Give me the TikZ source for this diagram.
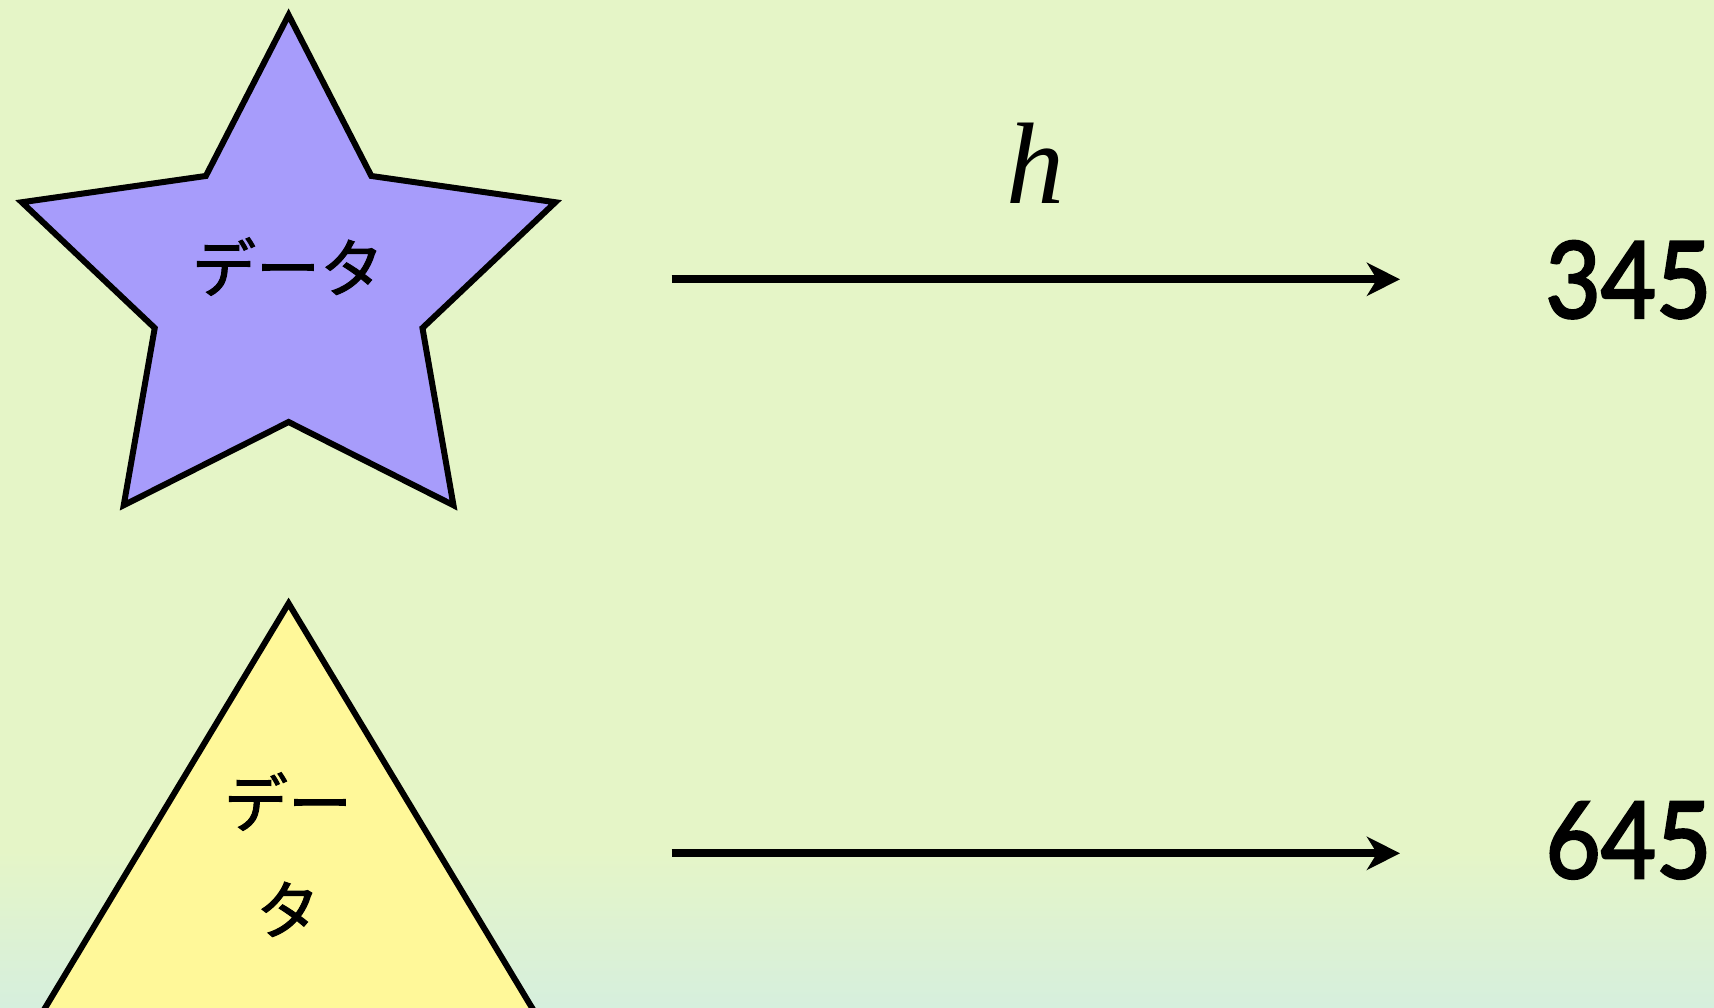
\documentclass[tikz,border=0pt]{standalone}
\usepackage{fontspec}
\usepackage{graphicx}
\newfontfamily\numfont[FakeBold=2.5]{Lato}
\newfontfamily\jpfont[FakeBold=1.5]{Noto Sans CJK JP}
\newfontfamily\hfont{Liberation Serif}
\usetikzlibrary{arrows.meta}
\definecolor{fondo}{RGB}{229,245,199}
\definecolor{fondobajo}{RGB}{214,239,221}
\definecolor{estrella}{RGB}{167,156,251}
\definecolor{triangulo}{RGB}{255,248,153}

\begin{document}
\begin{tikzpicture}[x=0.5pt, y=-0.5pt,
    figura/.style={draw=black, line width=3pt, line join=miter},
    etiqueta/.style={inner sep=0pt, anchor=base, font=\jpfont\fontsize{32}{40}\selectfont},
    numero/.style={inner sep=0pt, anchor=base, font=\numfont\fontsize{53}{60}\selectfont},
    flecha/.style={line width=3.9pt, -{Stealth[length=16.5pt, width=16.5pt, inset=5pt]}}]
    \useasboundingbox (0,0) rectangle (1714,1007);
    \clip (0,0) rectangle (1714,1007);
    % Fondo
    \fill[fondo] (0,0) rectangle (1714,1007);
    \shade[top color=fondo, bottom color=fondobajo] (0,850) rectangle (1714,1007);
    % Estrella
    \begin{scope}[shift={(288.6,286)}, xscale=1.035]
        \draw[figura, fill=estrella] (-90:271)
            \foreach \i [evaluate=\i as \rad using {mod(\i,2)==0 ? 271 : 136}] in {1,...,9} {
                -- ({-90+36*\i}:\rad)
            } -- cycle;
    \end{scope}
    \node[etiqueta] (datoestrella) at (288,292) {データ};
    % Triangulo
    \draw[figura, fill=triangulo] (288.6,603.4) -- (31.8,1030) -- (545.4,1030) -- cycle;
    \node[etiqueta] (datotri1) at (288,827) {デー};
    \node[etiqueta] (datotri2) at (288,934) {タ};
    % Flechas
    \coordinate (ini1) at (671.7,279.3);
    \coordinate (fin1) at (1400,279.3);
    \coordinate (ini2) at (671.7,853.3);
    \coordinate (fin2) at (1400,853.3);
    \draw[flecha] (ini1) -- (fin1);
    \draw[flecha] (ini2) -- (fin2);
    % Etiquetas
    \node[inner sep=0pt, anchor=base, font=\hfont\itshape\fontsize{58}{60}\selectfont] (hlabel) at (1035.5,203) {h};
    \node[numero] (valor1) at (1628.5,317.7) {\scalebox{0.9}[1]{345}};
    \node[numero] (valor2) at (1628.5,878) {\scalebox{0.9}[1]{645}};
\end{tikzpicture}
\end{document}
